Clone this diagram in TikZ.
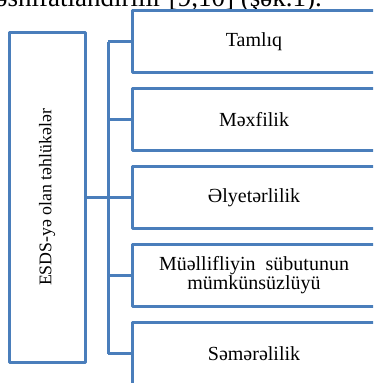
\documentclass[tikz,border=0pt]{standalone}
\usepackage{fontspec}
\usepackage{graphicx}
\setmainfont{Liberation Serif}
\usetikzlibrary{positioning}
\definecolor{boxblue}{RGB}{74,126,187}
\tikzset{
  threat/.style={draw=boxblue,line width=3pt,minimum width=244pt,minimum height=62pt,
    outer sep=0pt,inner sep=2pt,align=center,font=\fontsize{20}{17.5}\selectfont},
  link/.style={draw=boxblue,line width=3pt}
}
\begin{document}
\begin{tikzpicture}[x=1pt,y=-1pt,line join=round]
  \useasboundingbox (0,0) rectangle (373,383);
  \clip (0,0) rectangle (373,383);
  % line of text above the figure, cut off by the crop
  \node[anchor=base east,inner sep=0pt,font=\fontsize{27}{30}\selectfont] (caption) at (322,6.5) {təsnifatlandırılır [9,10] (şək.1).};
  \node[draw=boxblue,line width=3pt,minimum width=76pt,minimum height=330pt,outer sep=0pt,
    font=\fontsize{17.8}{20}\selectfont] (esds) at (47,197.5) {\rotatebox{90}{ESDS-yə olan təhlükələr}};
  \node[threat] (tamliq) at (254,41.5) {Tamlıq};
  \node[threat,below=16pt of tamliq] (mexfilik) {Məxfilik};
  \node[threat,below=16pt of mexfilik] (elyeterlilik) {Əlyetərlilik};
  \node[threat,below=16pt of elyeterlilik] (muelliflik) {Müəllifliyin\hspace{0.5em}sübutunun\\mümkünsüzlüyü};
  \node[threat,below=16pt of muelliflik] (semerelilik) {Səmərəlilik};
  \coordinate (bus) at (108,197.5);
  \draw[link] (esds.east) -- (bus);
  \draw[link] (bus |- tamliq.west) -- (bus |- semerelilik.west);
  \foreach \b in {tamliq,mexfilik,elyeterlilik,muelliflik,semerelilik}
    \draw[link] (bus |- \b.west) -- (\b.west);
\end{tikzpicture}
\end{document}
